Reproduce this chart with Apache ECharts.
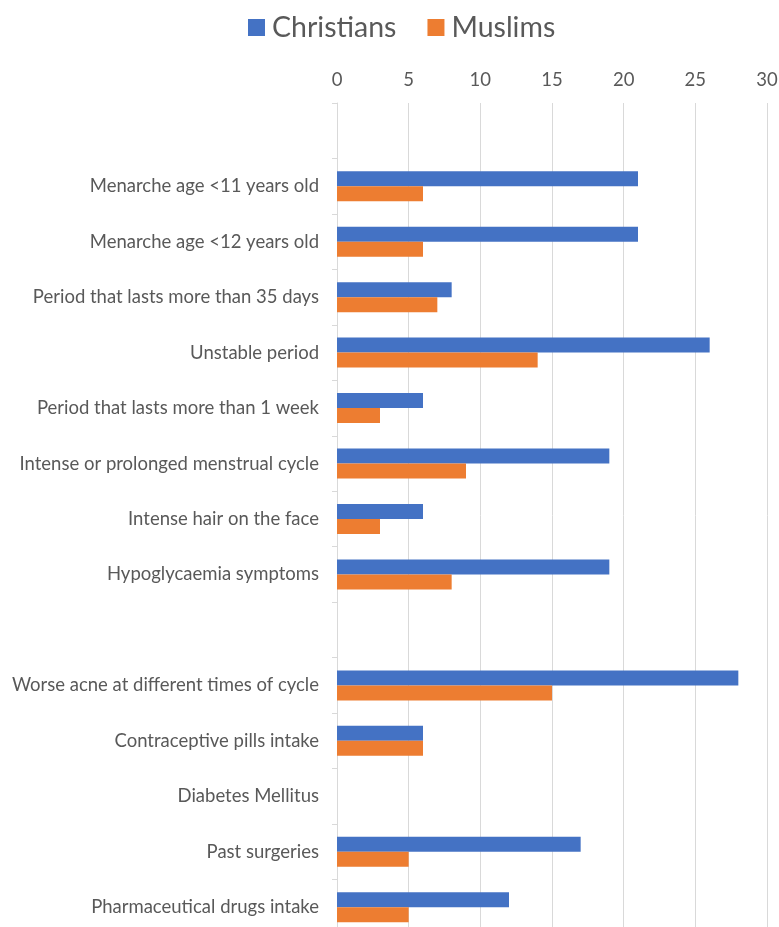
<!DOCTYPE html>
<html>
<head>
<meta charset="utf-8">
<script src="https://cdn.jsdelivr.net/npm/echarts@6/dist/echarts.min.js"></script>
<style>
  html, body { margin: 0; padding: 0; background: #fff; }
  #chart { width: 779px; height: 927px; }
</style>
</head>
<body>
<div id="chart"></div>
<script>
// Categories top to bottom; blank entries leave empty rows
const categories = [
  '',
  'Menarche age <11 years old',
  'Menarche age <12 years old',
  'Period that lasts more than 35 days',
  'Unstable period',
  'Period that lasts more than 1 week',
  'Intense or prolonged menstrual cycle',
  'Intense hair on the face',
  'Hypoglycaemia symptoms',
  '',
  'Worse acne at different times of cycle',
  'Contraceptive pills intake',
  'Diabetes Mellitus',
  'Past surgeries',
  'Pharmaceutical drugs intake'
];
const christians = [null, 21, 21, 8, 26, 6, 19, 6, 19, null, 28, 6, 0, 17, 12];
const muslims    = [null, 6, 6, 7, 14, 3, 9, 3, 8, null, 15, 6, 0, 5, 5];
const xTicks = [0, 5, 10, 15, 20, 25, 30];

const FONT = 'Lato';
const TEXT = '#595959';

const chart = echarts.init(document.getElementById('chart'), null, { renderer: 'canvas' });
chart.setOption({
  animation: false,
  textStyle: { fontFamily: FONT },
  legend: {
    left: 243,
    top: 8,
    itemWidth: 17,
    itemHeight: 17,
    itemGap: 31,
    icon: 'rect',
    textStyle: { fontFamily: FONT, fontSize: 28.5, color: TEXT, padding: [0, 0, 0, 2] },
    data: ['Christians', 'Muslims']
  },
  // the plot runs a little past the bottom edge of the canvas
  grid: { left: 337, top: 103, width: 430, height: 832, containLabel: false, outerBoundsMode: 'none' },
  xAxis: {
    type: 'value',
    position: 'top',
    min: xTicks[0],
    max: xTicks[xTicks.length - 1],
    interval: 5,
    axisLine: { show: false },
    axisTick: { show: false },
    axisLabel: { color: TEXT, fontSize: 18.5, fontFamily: FONT, margin: 13 },
    splitLine: { show: true, lineStyle: { color: '#d9d9d9', width: 1 } }
  },
  yAxis: {
    type: 'category',
    inverse: true,
    data: categories,
    axisLine: { show: true, lineStyle: { color: '#d9d9d9', width: 1 } },
    axisTick: { show: true, length: 5, lineStyle: { color: '#d9d9d9' } },
    axisLabel: { color: TEXT, fontSize: 18.5, fontFamily: FONT, margin: 18, interval: 0 }
  },
  series: [
    {
      name: 'Christians',
      type: 'bar',
      data: christians,
      barWidth: 15,
      barGap: '0%',
      itemStyle: { color: '#4472C4' }
    },
    {
      name: 'Muslims',
      type: 'bar',
      data: muslims,
      barWidth: 15,
      barGap: '0%',
      itemStyle: { color: '#ED7D31' }
    }
  ]
});
</script>
</body>
</html>
